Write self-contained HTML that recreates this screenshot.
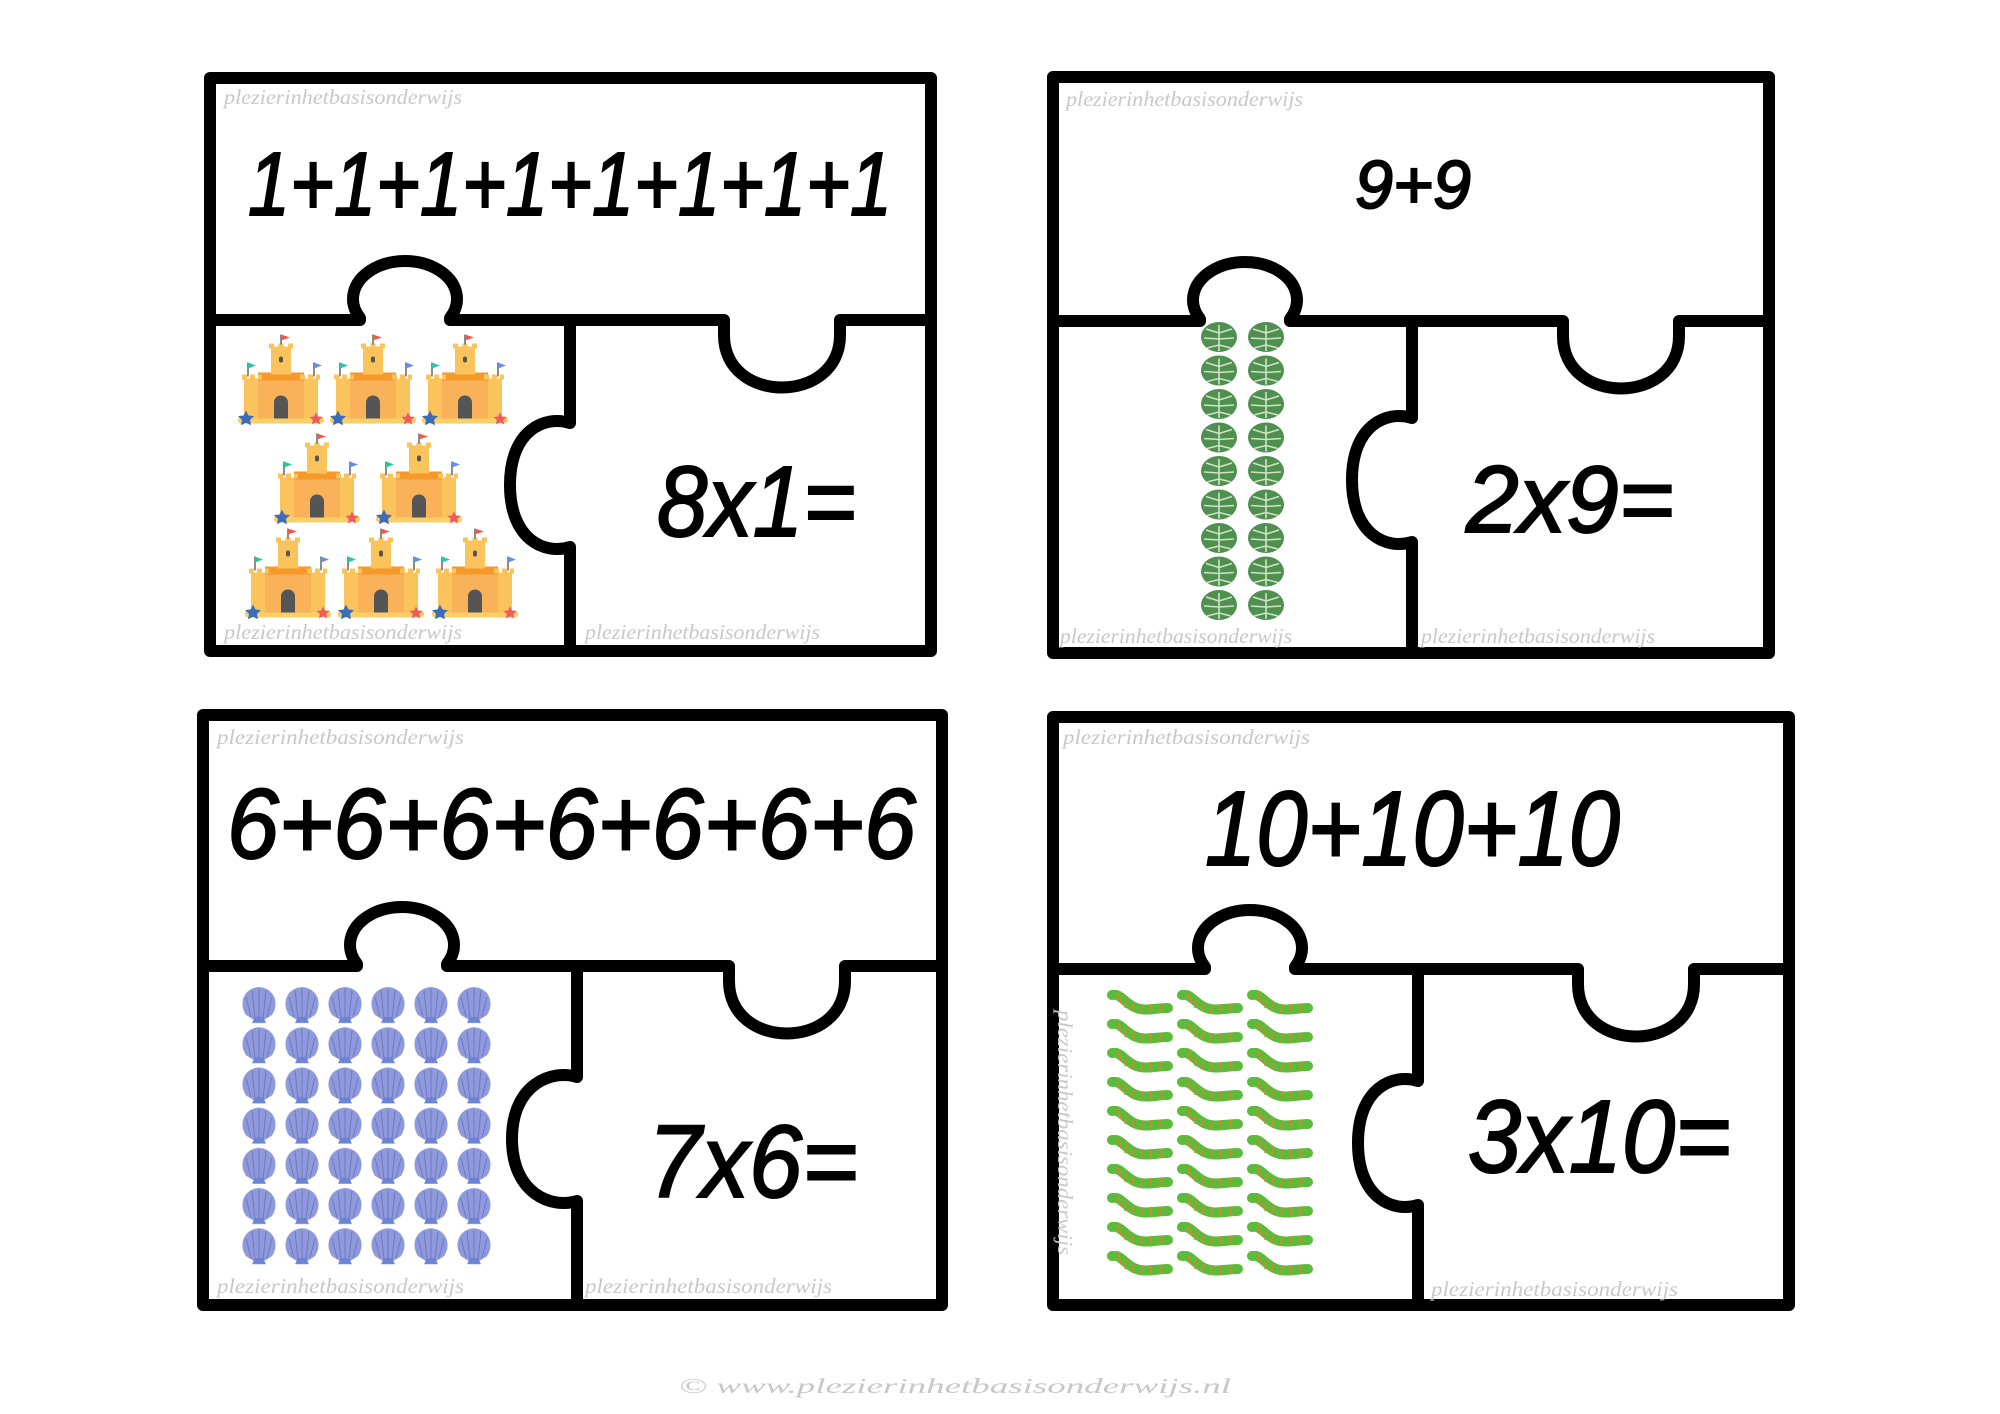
<!DOCTYPE html>
<html><head><meta charset="utf-8"><style>
html,body{margin:0;padding:0;background:#fff}
svg{display:block}
.t{font-family:"Liberation Sans",sans-serif;font-style:italic;fill:#000;stroke:#000;stroke-width:2}
.w{font-family:"Liberation Serif",serif;font-style:italic;fill:#c8c8c8;font-size:21px}
.f{fill:none;stroke:#000;stroke-width:12;stroke-linejoin:round}
</style></head><body>
<svg width="2000" height="1414" viewBox="0 0 2000 1414" xmlns="http://www.w3.org/2000/svg">
<defs>
<symbol id="castle" viewBox="0 0 90 90">
<rect x="2" y="82" width="86" height="7" rx="3" fill="#f9cf6a"/>
<rect x="8" y="44" width="17" height="40" fill="#fbc35c"/>
<rect x="65" y="44" width="17" height="40" fill="#fbc35c"/>
<rect x="22" y="38" width="46" height="46" fill="#f9b25a"/>
<rect x="22" y="38" width="46" height="8" fill="#f59a2a"/>
<rect x="35" y="12" width="20" height="28" fill="#fbc35c"/>
<rect x="33" y="9" width="5" height="5" fill="#fbc35c"/><rect x="42.5" y="9" width="5" height="5" fill="#fbc35c"/><rect x="52" y="9" width="5" height="5" fill="#fbc35c"/>
<rect x="6" y="40" width="5" height="5" fill="#fbc35c"/><rect x="14" y="40" width="5" height="5" fill="#fbc35c"/><rect x="22" y="40" width="4" height="5" fill="#fbc35c"/>
<rect x="64" y="40" width="5" height="5" fill="#fbc35c"/><rect x="72" y="40" width="5" height="5" fill="#fbc35c"/><rect x="80" y="40" width="4" height="5" fill="#fbc35c"/>
<path d="M38 84 V68 A7 7 0 0 1 52 68 V84Z" fill="#555"/>
<rect x="43" y="22" width="4" height="6" rx="2" fill="#555"/>
<line x1="45" y1="0" x2="45" y2="10" stroke="#666" stroke-width="1.5"/>
<path d="M45 0 L54 3 L45 6Z" fill="#f05a4a"/>
<line x1="12" y1="28" x2="12" y2="42" stroke="#666" stroke-width="1.5"/><path d="M12 28 L20 31 L12 34Z" fill="#2ec4a0"/>
<line x1="78" y1="28" x2="78" y2="42" stroke="#666" stroke-width="1.5"/><path d="M78 28 L86 31 L78 34Z" fill="#6a8ee0"/>
<path d="M10 76 l2.5 5 5.5 .6 -4 3.8 1 5.4 -5 -2.6 -5 2.6 1 -5.4 -4 -3.8 5.5 -.6z" fill="#3d6db8"/>
<path d="M80 78 l2 4 4.5 .5 -3.3 3 .8 4.4 -4 -2.1 -4 2.1 .8 -4.4 -3.3 -3 4.5 -.5z" fill="#ef5a5a"/>
</symbol>
<pattern id="leaf" x="1200" y="321" width="47" height="33.5" patternUnits="userSpaceOnUse">
<ellipse cx="19" cy="16" rx="18" ry="15" fill="#4f8f4f"/>
<path d="M19 4 V30 M19 12 L6 8 M19 12 L32 8 M19 18 L4 17 M19 18 L34 17 M19 24 L7 27 M19 24 L31 27" stroke="#cfe3c6" stroke-width="1.6"/>
</pattern>
<pattern id="shell" x="238" y="985" width="43" height="40.2" patternUnits="userSpaceOnUse">
<path d="M21 38 L8 30 C0 18 6 3 21 2 C36 3 42 18 34 30Z" fill="#8e9adb"/>
<path d="M14 38 H28 L25 32 H17Z" fill="#6a84d6"/>
<path d="M21 4 V34 M14 5 L17 34 M28 5 L25 34 M8 12 L13 32 M34 12 L29 32" stroke="#7078c0" stroke-width="1"/>
</pattern>
<pattern id="cat" x="1106" y="990" width="70" height="29" patternUnits="userSpaceOnUse">
<path d="M6 5 C14 3 18 12 28 17 C38 22 50 18 62 18" fill="none" stroke="#5dbb3c" stroke-width="10" stroke-linecap="round"/>
<path d="M12 4 l3 9 M20 9 l-1 9 M28 13 l-3 8 M36 15 l-1 8 M45 14 v8 M54 14 v8" stroke="#e2802a" stroke-width="1.6"/>
</pattern>
</defs>

<!-- Puzzle TL -->
<rect class="f" x="210" y="78" width="721" height="573"/>
<path class="f" d="M210 320 H360 V318 A52 38 0 1 1 450 318 V320 H724 V335 C724 405 840 405 840 335 V320 H931"/>
<path class="f" d="M570 320 V423 C545 415 510 430 510 485 C510 540 545 555 570 547 V651"/>
<text class="t" x="248" y="215" font-size="90" textLength="644" lengthAdjust="spacingAndGlyphs">1+1+1+1+1+1+1+1</text>
<text class="t" x="657" y="536" font-size="100" textLength="199" lengthAdjust="spacingAndGlyphs">8x1=</text>
<use href="#castle" x="236" y="334" width="90" height="91"/>
<use href="#castle" x="328" y="334" width="90" height="91"/>
<use href="#castle" x="420" y="334" width="90" height="91"/>
<use href="#castle" x="272" y="433" width="90" height="91"/>
<use href="#castle" x="374" y="433" width="90" height="91"/>
<use href="#castle" x="243" y="528" width="90" height="91"/>
<use href="#castle" x="336" y="528" width="90" height="91"/>
<use href="#castle" x="430" y="528" width="90" height="91"/>
<text class="w" x="224" y="104" textLength="238" lengthAdjust="spacingAndGlyphs">plezierinhetbasisonderwijs</text>
<text class="w" x="224" y="639" textLength="238" lengthAdjust="spacingAndGlyphs">plezierinhetbasisonderwijs</text>
<text class="w" x="585" y="639" textLength="235" lengthAdjust="spacingAndGlyphs">plezierinhetbasisonderwijs</text>

<!-- Puzzle TR -->
<rect class="f" x="1053" y="77" width="716" height="576"/>
<path class="f" d="M1053 321 H1200 V319 A52 38 0 1 1 1290 319 V321 H1563 V336 C1563 406 1679 406 1679 336 V321 H1769"/>
<path class="f" d="M1412 321 V418 C1387 410 1352 425 1352 480 C1352 535 1387 550 1412 542 V653"/>
<rect x="1200" y="321" width="90" height="302" fill="url(#leaf)"/>
<text class="t" x="1355" y="208" font-size="68" textLength="116" lengthAdjust="spacingAndGlyphs">9+9</text>
<text class="t" x="1466" y="532" font-size="95" textLength="208" lengthAdjust="spacingAndGlyphs">2x9=</text>
<text class="w" x="1066" y="106" textLength="237" lengthAdjust="spacingAndGlyphs">plezierinhetbasisonderwijs</text>
<text class="w" x="1060" y="643" textLength="232" lengthAdjust="spacingAndGlyphs">plezierinhetbasisonderwijs</text>
<text class="w" x="1421" y="643" textLength="234" lengthAdjust="spacingAndGlyphs">plezierinhetbasisonderwijs</text>

<!-- Puzzle BL -->
<rect class="f" x="203" y="715" width="739" height="590"/>
<path class="f" d="M203 966 H357 V964 A52 38 0 1 1 447 964 V966 H729 V981 C729 1051 845 1051 845 981 V966 H942"/>
<path class="f" d="M577 966 V1077 C552 1069 512 1084 512 1139 C512 1194 552 1209 577 1201 V1305"/>
<rect x="238" y="985" width="258" height="282" fill="url(#shell)"/>
<text class="t" x="227" y="858" font-size="99" textLength="689" lengthAdjust="spacingAndGlyphs">6+6+6+6+6+6+6</text>
<text class="t" x="648" y="1197" font-size="103" textLength="210" lengthAdjust="spacingAndGlyphs">7x6=</text>
<text class="w" x="217" y="744" textLength="247" lengthAdjust="spacingAndGlyphs">plezierinhetbasisonderwijs</text>
<text class="w" x="217" y="1293" textLength="247" lengthAdjust="spacingAndGlyphs">plezierinhetbasisonderwijs</text>
<text class="w" x="585" y="1293" textLength="247" lengthAdjust="spacingAndGlyphs">plezierinhetbasisonderwijs</text>

<!-- Puzzle BR -->
<rect class="f" x="1053" y="717" width="736" height="588"/>
<path class="f" d="M1053 969 H1205 V967 A52 38 0 1 1 1295 967 V969 H1578 V984 C1578 1054 1694 1054 1694 984 V969 H1789"/>
<path class="f" d="M1418 969 V1081 C1393 1073 1358 1088 1358 1143 C1358 1198 1393 1213 1418 1205 V1305"/>
<rect x="1106" y="990" width="210" height="290" fill="url(#cat)"/>
<text class="t" x="1205" y="865" font-size="106" textLength="415" lengthAdjust="spacingAndGlyphs">10+10+10</text>
<text class="t" x="1468" y="1172" font-size="103" textLength="263" lengthAdjust="spacingAndGlyphs">3x10=</text>
<text class="w" x="1063" y="744" textLength="247" lengthAdjust="spacingAndGlyphs">plezierinhetbasisonderwijs</text>
<text class="w" x="1431" y="1296" textLength="247" lengthAdjust="spacingAndGlyphs">plezierinhetbasisonderwijs</text>
<text class="w" transform="translate(1058,1010) rotate(90)" textLength="245" lengthAdjust="spacingAndGlyphs">plezierinhetbasisonderwijs</text>

<text class="w" x="679" y="1393" font-size="34" textLength="552" lengthAdjust="spacingAndGlyphs" fill="#d4d4d4">© www.plezierinhetbasisonderwijs.nl</text>
</svg>
</body></html>
